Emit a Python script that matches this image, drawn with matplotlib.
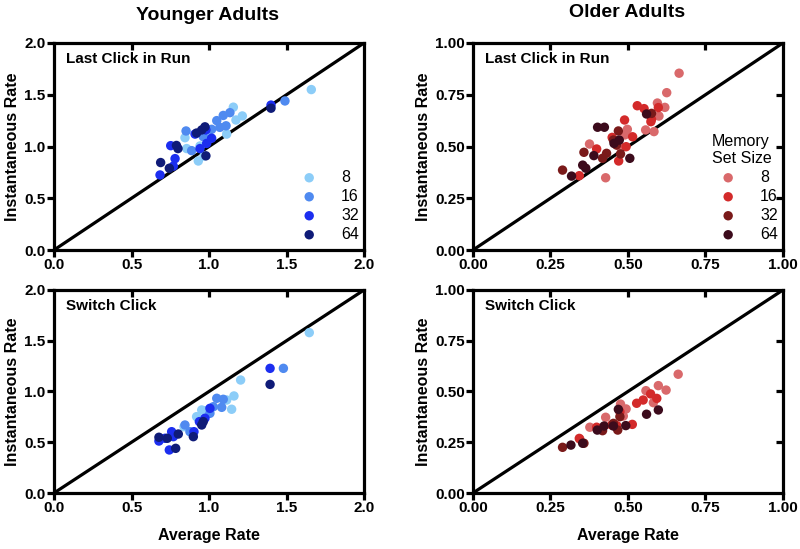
import matplotlib
matplotlib.use("Agg")
import matplotlib.pyplot as plt
from matplotlib.ticker import FormatStrFormatter

plt.rcParams['font.family'] = ['Liberation Sans', 'DejaVu Sans']

set_sizes = ['8', '16', '32', '64']
blue_colors = ['#8ccdf8', '#4f8af0', '#1c2ef0', '#0f1b78']
red_colors = ['#d9696b', '#d32a2a', '#7a1a1a', '#3c0b1c']

# younger adults, last click in run: (average rate, instantaneous rate)
young_last_x = {
    '8': [1.66, 1.157, 1.215, 1.174, 1.114, 0.845, 0.856, 0.942, 0.931, 0.968, 0.989],
    '16': [1.49, 1.092, 1.05, 1.135, 1.11, 1.07, 1.017, 0.852, 0.953, 0.888, 0.963],
    '32': [1.40, 0.753, 0.781, 0.770, 0.684, 0.910, 1.017, 0.985, 0.942, 0.98],
    '64': [1.40, 0.688, 0.744, 0.80, 0.79, 0.92, 0.974, 0.98, 0.953],
}
young_last_y = {
    '8': [1.55, 1.38, 1.295, 1.256, 1.12, 1.085, 0.98, 1.005, 0.86, 0.908, 1.10],
    '16': [1.44, 1.30, 1.25, 1.327, 1.20, 1.185, 1.166, 1.15, 1.143, 0.96, 1.095],
    '32': [1.40, 1.008, 0.883, 0.81, 0.725, 1.12, 1.08, 1.03, 0.98, 1.16],
    '64': [1.37, 0.845, 0.79, 0.98, 1.01, 1.13, 1.19, 0.91, 1.16],
}

# younger adults, switch click
young_switch_x = {
    '8': [1.647, 1.204, 1.161, 1.146, 1.114, 0.974, 0.953, 0.92, 0.839, 0.931],
    '16': [1.48, 1.05, 1.092, 1.082, 1.006, 0.845, 0.877, 1.028],
    '32': [1.394, 1.006, 0.974, 0.938, 0.903, 0.759, 0.77, 0.677, 0.744, 0.716],
    '64': [1.394, 0.677, 0.731, 0.802, 0.785, 0.899, 0.953, 0.963],
}
young_switch_y = {
    '8': [1.58, 1.113, 0.956, 0.825, 0.916, 0.811, 0.818, 0.752, 0.653, 0.736],
    '16': [1.228, 0.933, 0.923, 0.844, 0.785, 0.67, 0.604, 0.85],
    '32': [1.228, 0.834, 0.736, 0.703, 0.604, 0.604, 0.555, 0.512, 0.424, 0.539],
    '64': [1.07, 0.549, 0.539, 0.581, 0.44, 0.555, 0.67, 0.703],
}

# older adults, last click in run
old_last_x = {
    '8': [0.665, 0.625, 0.595, 0.619, 0.60, 0.557, 0.584, 0.498, 0.49, 0.474, 0.376, 0.428],
    '16': [0.53, 0.552, 0.489, 0.576, 0.598, 0.515, 0.449, 0.399, 0.47, 0.343, 0.574, 0.494],
    '32': [0.289, 0.358, 0.469, 0.431, 0.418, 0.476, 0.576, 0.453, 0.463],
    '64': [0.318, 0.354, 0.364, 0.39, 0.402, 0.424, 0.506, 0.56, 0.455, 0.472],
}
old_last_y = {
    '8': [0.854, 0.76, 0.71, 0.689, 0.647, 0.58, 0.572, 0.583, 0.556, 0.499, 0.512, 0.349],
    '16': [0.697, 0.683, 0.628, 0.631, 0.688, 0.547, 0.544, 0.488, 0.43, 0.359, 0.62, 0.499],
    '32': [0.386, 0.472, 0.575, 0.467, 0.443, 0.464, 0.66, 0.531, 0.507],
    '64': [0.357, 0.41, 0.395, 0.456, 0.593, 0.593, 0.443, 0.657, 0.515, 0.531],
}

# older adults, switch click
old_switch_x = {
    '8': [0.662, 0.598, 0.623, 0.558, 0.582, 0.476, 0.494, 0.485, 0.428, 0.377, 0.345],
    '16': [0.528, 0.549, 0.573, 0.593, 0.514, 0.464, 0.447, 0.399, 0.474, 0.343],
    '32': [0.289, 0.358, 0.418, 0.453, 0.467, 0.474],
    '64': [0.316, 0.354, 0.401, 0.423, 0.493, 0.56, 0.598, 0.469, 0.453],
}
old_switch_y = {
    '8': [0.585, 0.529, 0.507, 0.504, 0.445, 0.438, 0.414, 0.379, 0.373, 0.324, 0.265],
    '16': [0.442, 0.458, 0.488, 0.466, 0.338, 0.332, 0.335, 0.324, 0.40, 0.269],
    '32': [0.225, 0.245, 0.307, 0.343, 0.31, 0.376],
    '64': [0.236, 0.245, 0.31, 0.33, 0.332, 0.388, 0.409, 0.412, 0.33],
}

young_ticks = [0.0, 0.5, 1.0, 1.5, 2.0]
old_ticks = [0.0, 0.25, 0.5, 0.75, 1.0]

fig = plt.figure(figsize=(8, 5.49), dpi=100)

panels = [
    # rect, xs, ys, colors, ticks, lim, fmt, label
    ([0.0675, 0.5446, 0.3875, 0.3771], young_last_x, young_last_y, blue_colors, young_ticks, 2.0, '%.1f', 'Last Click in Run'),
    ([0.0675, 0.1020, 0.3875, 0.3698], young_switch_x, young_switch_y, blue_colors, young_ticks, 2.0, '%.1f', 'Switch Click'),
    ([0.5912, 0.5446, 0.3875, 0.3771], old_last_x, old_last_y, red_colors, old_ticks, 1.0, '%.2f', 'Last Click in Run'),
    ([0.5912, 0.1020, 0.3875, 0.3698], old_switch_x, old_switch_y, red_colors, old_ticks, 1.0, '%.2f', 'Switch Click'),
]

axes = []
for rect, xs, ys, colors, ticks, lim, fmt, label in panels:
    ax = fig.add_axes(rect)
    ax.plot([0, lim], [0, lim], color='black', lw=2.3, zorder=1)
    for k, c in zip(set_sizes, colors):
        ax.scatter(xs[k], ys[k], s=46, color=c, edgecolors='none', zorder=2, label=k)
    ax.set_xlim(0, lim)
    ax.set_ylim(0, lim)
    ax.set_xticks(ticks)
    ax.set_yticks(ticks)
    ax.xaxis.set_major_formatter(FormatStrFormatter(fmt))
    ax.yaxis.set_major_formatter(FormatStrFormatter(fmt))
    for sp in ax.spines.values():
        sp.set_linewidth(2.3)
    ax.tick_params(axis='both', which='major', direction='out', length=5, width=2.3,
                   labelsize=11, pad=1)
    for t in ax.get_xticklabels() + ax.get_yticklabels():
        t.set_fontweight('bold')
    # mirrored ticks inside on top
    sec = ax.secondary_xaxis('top')
    sec.set_xticks(ticks[1:-1])
    sec.tick_params(direction='in', length=5, width=2.3, labeltop=False)
    ax.text(0.04, 0.955, label, transform=ax.transAxes, ha='left', va='top',
            fontsize=11, fontweight='bold')
    axes.append(ax)

# right-side inner ticks on older adults panels
for ax in axes[2:]:
    sec = ax.secondary_yaxis('right')
    sec.set_yticks(old_ticks[1:-1])
    sec.tick_params(direction='in', length=5, width=2.3, labelright=False)

for ax in axes:
    ax.set_ylabel('Instantaneous Rate', fontsize=11.5, fontweight='bold', labelpad=3)
for ax in (axes[1], axes[3]):
    ax.set_xlabel('Average Rate', fontsize=11.5, fontweight='bold', labelpad=9)

# legends
axes[0].legend(loc='lower right', bbox_to_anchor=(1.02, -0.015), frameon=False, fontsize=11.5,
               handletextpad=1.0, labelspacing=0.25, borderaxespad=0.3)
axes[2].legend(loc='lower right', bbox_to_anchor=(1.02, -0.015), frameon=False, fontsize=11.5,
               title='Memory\nSet Size', title_fontsize=11.5, alignment='left',
               handletextpad=1.0, labelspacing=0.25, borderaxespad=0.3)

fig.text(0.26, 0.972, 'Younger Adults', ha='center', va='center', fontsize=14, fontweight='bold')
fig.text(0.784, 0.978, 'Older Adults', ha='center', va='center', fontsize=14, fontweight='bold')

fig.savefig('out.png', dpi=100)
